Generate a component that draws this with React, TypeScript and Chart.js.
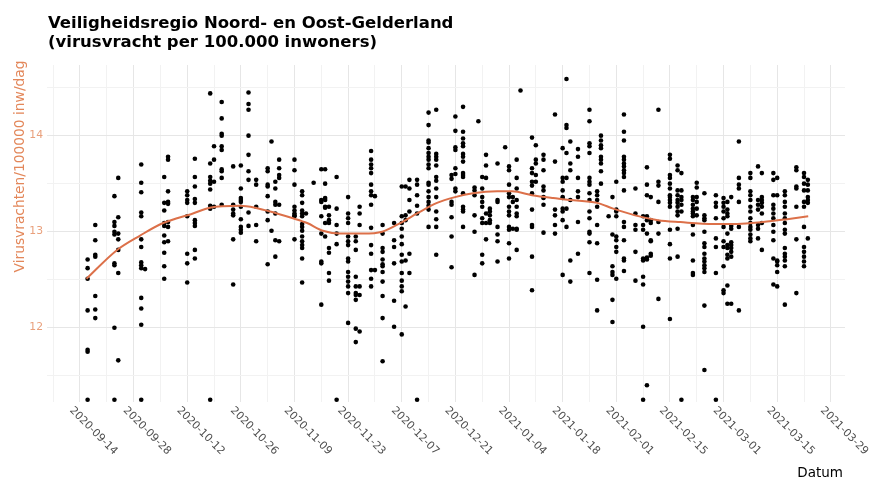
import React, { useEffect, useRef } from 'react';
import { Chart, registerables } from 'chart.js';

Chart.register(...registerables);

const FONT = '"DejaVu Sans", Verdana, sans-serif';

const titleLines = ['Veiligheidsregio Noord- en Oost-Gelderland', '(virusvracht per 100.000 inwoners)'];
const yAxisTitle = 'Virusvrachten/100000 inw/dag';
const xAxisTitle = 'Datum';

// x values are days since 2020-09-14
const xMajorDays = [0, 14, 28, 42, 56, 70, 84, 98, 112, 126, 140, 154, 168, 182, 196];
const xTickLabels = [
  '2020-09-14', '2020-09-28', '2020-10-12', '2020-10-26', '2020-11-09', '2020-11-23', '2020-12-07',
  '2020-12-21', '2021-01-04', '2021-01-18', '2021-02-01', '2021-02-15', '2021-03-01', '2021-03-15', '2021-03-29',
];
const xMinorDays = [-7, 7, 21, 35, 49, 63, 77, 91, 105, 119, 133, 147, 161, 175, 189];
const yMajorTicks = [12, 13, 14];
const yMinorTicks = [11.5, 12.5, 13.5, 14.5];

const sampleDays = [
  2, 4, 9, 10, 16, 17, 22, 23, 28, 30, 34, 35, 37, 40, 42, 44, 46, 49, 50, 51, 52, 56, 58, 59, 61, 63, 64, 65, 67,
  70, 72, 73, 76, 77, 79, 82, 84, 85, 86, 88, 91, 93, 97, 98, 100, 103, 104, 105, 106, 107, 109, 111, 112, 113,
  114, 115, 118, 119, 121, 124, 126, 127, 128, 130, 133, 135, 136, 138, 139, 140, 142, 145, 147, 148, 149, 151,
  154, 156, 157, 160, 161, 163, 166, 168, 169, 170, 172, 175, 177, 178, 181, 182, 184, 187, 189, 190,
];
const sampleValues = [
  [12.71, 12.62, 12.51, 12.18, 11.77, 11.75, 11.25],
  [13.07, 12.91, 12.76, 12.74, 12.33, 12.19, 12.10],
  [13.37, 13.10, 13.06, 13.00, 12.97, 12.67, 12.65, 12.00, 11.25],
  [13.56, 13.15, 12.98, 12.92, 12.81, 12.57, 11.66],
  [13.70, 13.51, 13.41, 13.20, 13.16, 12.92, 12.84, 12.68, 12.65, 12.62, 12.31, 12.20, 12.03, 11.25],
  [12.61],
  [13.57, 13.30, 13.22, 13.09, 13.06, 12.96, 12.89, 12.78, 12.64, 12.51],
  [13.78, 13.75, 13.42, 13.31, 13.29, 13.10, 13.05, 12.90],
  [13.42, 13.38, 13.33, 13.30, 13.16, 12.77, 12.67, 12.47],
  [13.76, 13.57, 13.47, 13.34, 13.30, 13.12, 13.09, 13.06, 12.81, 12.72],
  [14.44, 13.71, 13.57, 13.53, 13.50, 13.44, 13.27, 13.24, 11.25],
  [13.89, 13.75, 13.52, 13.26],
  [14.35, 14.18, 14.02, 14.00, 13.89, 13.85, 13.65, 13.63, 13.56, 13.28],
  [13.68, 13.28, 13.23, 13.19, 13.17, 12.92, 12.45],
  [13.69, 13.45, 13.35, 13.33, 13.31, 13.26, 13.13, 13.05, 13.02, 12.99],
  [14.45, 14.33, 14.27, 14.00, 13.80, 13.63, 13.54, 13.20, 13.06],
  [13.54, 13.49, 13.26, 13.07, 12.90],
  [13.66, 13.63, 13.49, 13.47, 13.37, 13.21, 13.12, 12.66],
  [13.94, 13.01],
  [13.52, 13.45, 13.31, 13.28, 13.19, 12.91, 12.74],
  [13.75, 13.66, 13.59, 13.56, 13.28, 12.90],
  [13.75, 13.64, 13.49, 13.26, 13.22, 13.19, 13.17, 13.16, 12.92],
  [13.42, 13.38, 13.30, 13.22, 13.19, 13.16, 13.08, 13.05, 13.01, 12.95, 12.90, 12.86, 12.83, 12.72, 12.47],
  [13.19],
  [13.51],
  [13.65, 13.33, 13.31, 13.16, 12.98, 12.69, 12.67, 12.24],
  [13.65, 13.50, 13.35, 13.33, 13.26, 13.25, 13.09, 12.95],
  [13.26, 13.17, 13.12, 13.09, 12.83, 12.78, 12.57, 12.49],
  [13.57, 13.24, 13.07, 12.98, 12.87, 11.25],
  [13.36, 13.19, 13.14, 13.09, 12.95, 12.90, 12.86, 12.72, 12.69, 12.58, 12.53, 12.48, 12.43, 12.36, 12.05],
  [12.95, 12.90, 12.81, 12.53, 12.43, 12.36, 12.34, 12.29, 11.99, 11.85],
  [13.26, 13.19, 13.07, 12.43, 12.34, 11.96],
  [13.84, 13.75, 13.70, 13.66, 13.61, 13.49, 13.42, 13.38, 13.28, 13.04, 12.86, 12.77, 12.60, 12.51, 12.43],
  [13.37, 12.60],
  [13.07, 12.98, 12.83, 12.79, 12.71, 12.66, 12.64, 12.58, 12.48, 12.33, 12.10, 11.65],
  [13.09, 12.91, 12.84, 12.67, 12.28, 12.01],
  [13.47, 13.16, 13.09, 13.03, 12.95, 12.87, 12.76, 12.69, 12.57, 12.49, 12.43, 12.38, 11.93],
  [13.47, 13.17, 13.12, 12.70, 12.22],
  [13.54, 13.45, 13.33, 13.21, 12.77, 12.57],
  [13.54, 13.49, 13.38, 13.27, 13.19, 11.25],
  [14.24, 14.11, 13.95, 13.93, 13.87, 13.82, 13.78, 13.75, 13.70, 13.66, 13.51, 13.49, 13.42, 13.36, 13.31, 13.27, 13.23, 13.05],
  [14.27, 13.81, 13.78, 13.75, 13.69, 13.57, 13.53, 13.45, 13.36, 13.21, 13.13, 13.05, 12.76],
  [13.59, 13.55, 13.31, 13.28, 13.15, 12.95, 12.63],
  [14.20, 14.05, 13.88, 13.85, 13.66, 13.60, 13.45, 13.42],
  [14.30, 14.04, 13.97, 13.92, 13.89, 13.81, 13.78, 13.73, 13.61, 13.59, 13.57, 13.40, 13.26, 13.23, 13.21, 13.05],
  [13.46, 13.43, 13.38, 13.17, 13.00, 12.55],
  [14.15],
  [13.57, 13.45, 13.36, 13.31, 13.26, 13.14, 13.09, 12.76, 12.67],
  [13.80, 13.69, 13.56, 13.19, 13.09, 12.92],
  [13.24, 13.21, 13.17, 13.12, 13.09],
  [13.71, 13.33, 13.31, 13.05, 12.97, 12.90, 12.69],
  [13.88],
  [13.68, 13.64, 13.49, 13.40, 13.36, 13.26, 13.21, 13.17, 13.05, 13.02, 12.88, 12.72],
  [13.36, 13.31, 13.03],
  [13.75, 13.56, 13.45, 13.33, 13.26, 13.19, 13.16, 13.03, 13.02, 12.81],
  [14.47],
  [13.98, 13.66, 13.61, 13.52, 13.48, 13.40, 13.23, 13.07, 13.05, 12.74, 12.39],
  [13.90, 13.75, 13.71, 13.59, 13.52],
  [13.80, 13.75, 13.64, 13.47, 13.43, 13.36, 13.35, 13.28, 12.99],
  [14.22, 13.73, 13.23, 13.17, 13.07, 12.98],
  [13.87, 13.56, 13.52, 13.43, 13.36, 13.35, 13.24, 13.21, 13.12, 12.55],
  [14.59, 14.11, 14.08, 13.82, 13.56, 13.24, 13.05],
  [13.94, 13.71, 13.64, 13.33, 12.70, 12.48],
  [13.86, 13.78, 13.56, 13.42, 13.36, 13.10, 12.77],
  [14.27, 14.15, 13.92, 13.89, 13.82, 13.56, 13.52, 13.49, 13.40, 13.33, 13.21, 13.14, 13.00, 12.98, 12.89, 12.57],
  [13.42, 13.38, 13.33, 13.26, 13.07, 12.88, 12.50, 12.18],
  [14.00, 13.95, 13.90, 13.87, 13.78, 13.75, 13.71, 13.63, 13.50],
  [13.16],
  [13.36, 12.97, 12.64, 12.58, 12.55, 12.29, 12.06],
  [13.52, 13.23, 13.21, 13.16, 12.95, 12.91, 12.84, 12.79, 12.51],
  [14.22, 14.04, 13.95, 13.78, 13.75, 13.71, 13.68, 13.64, 13.61, 13.57, 13.43, 13.10, 13.05, 12.91, 12.72, 12.70, 12.59],
  [13.45, 13.19, 13.07, 13.02, 12.79, 12.49],
  [13.16, 13.07, 13.02, 12.72, 12.70, 12.53, 12.45, 12.01, 11.25],
  [13.67, 13.49, 13.38, 13.16, 13.12, 12.98, 12.73, 12.71, 11.40],
  [13.36, 13.12, 13.09, 12.91, 12.90, 12.77, 12.75],
  [14.27, 13.52, 13.48, 13.31, 13.10, 12.98, 12.30],
  [13.80, 13.76, 13.59, 13.56, 13.50, 13.45, 13.38, 13.36, 13.33, 13.30, 13.26, 13.02, 12.87, 12.72, 12.09],
  [13.69, 13.64, 13.43, 13.38, 13.33, 13.30, 13.26, 13.21, 13.17, 13.03, 12.74],
  [13.61, 13.43, 13.36, 13.33, 13.28, 13.21, 11.25],
  [13.36, 13.33, 13.28, 13.24, 13.21, 13.19, 13.16, 13.07, 12.97, 12.70, 12.57, 12.55],
  [13.51, 13.46, 13.36, 13.31, 13.24, 13.17],
  [13.40, 13.17, 13.14, 13.12, 13.00, 12.88, 12.84, 12.77, 12.72, 12.69, 12.65, 12.62, 12.58, 12.23, 11.56],
  [13.38, 13.30, 13.26, 13.14, 12.93, 12.84, 12.57, 11.25],
  [13.35, 13.30, 13.26, 13.21, 13.14, 13.05, 12.90, 12.84, 12.64, 12.39, 12.36],
  [13.31, 13.23, 13.19, 13.16, 12.98, 12.86, 12.83, 12.76, 12.72, 12.44, 12.25],
  [13.36, 13.06, 13.03, 12.89, 12.86, 12.83, 12.79, 12.74, 12.25],
  [13.94, 13.56, 13.49, 13.45, 13.31, 13.05, 12.18],
  [13.61, 13.56, 13.42, 13.38, 13.33, 13.26, 13.21, 13.14, 13.09, 13.05, 13.02, 12.97, 12.93, 12.90],
  [13.68, 13.33, 13.28, 13.23, 13.07, 13.03, 12.93],
  [13.61, 13.36, 13.33, 13.30, 13.26, 13.19, 13.09, 12.81],
  [13.61, 13.54, 13.38, 13.28, 13.24, 13.19, 13.14, 13.07, 13.00, 12.91, 12.72, 12.45],
  [13.56, 13.38, 12.70, 12.69, 12.65, 12.58, 12.43],
  [13.42, 13.38, 13.31, 13.26, 13.19, 13.14, 13.09, 13.02, 12.98, 12.83, 12.77, 12.74, 12.70, 12.64, 12.24],
  [13.67, 13.64, 13.47, 13.45, 13.26, 12.92, 12.36],
  [13.61, 13.57, 13.50, 13.43, 13.31, 13.26, 13.05, 12.84, 12.79, 12.74, 12.69, 12.64],
  [13.54, 13.49, 13.43, 13.36, 13.33, 13.30, 12.93],
];

// smoothed trend
const smoothDays = [
  1.7, 9.7, 15.7, 21.7, 29.5, 33.9, 41.8, 45.7, 51.4, 55.6, 59.3, 63.4, 67.9, 73.9, 78.9, 84.1, 88.0, 93.2,
  97.9, 102.6, 108.9, 112.8, 118.0, 123.5, 127.9, 135.0, 139.2, 144.9, 150.9, 156.7, 165.3, 171.6, 178.3, 184.6, 190.1,
];
const smoothValues = [
  12.51, 12.81, 12.96, 13.09, 13.19, 13.25, 13.27, 13.25, 13.19, 13.14, 13.09, 13.01, 12.98, 12.98, 13.0, 13.10,
  13.19, 13.30, 13.36, 13.40, 13.42, 13.42, 13.38, 13.35, 13.33, 13.30, 13.24, 13.17, 13.12, 13.10, 13.08, 13.08,
  13.10, 13.13, 13.16,
];

const X_MIN = -8.6;
const X_MAX = 199.7;
const Y_MIN = 11.226;
const Y_MAX = 14.736;

const textPlugin = {
  id: 'textPlugin',
  afterDraw(chart: any) {
    const { ctx, chartArea } = chart;
    const xs = chart.scales.x;
    ctx.save();
    // title
    ctx.fillStyle = '#000';
    ctx.font = `bold 16.5px ${FONT}`;
    ctx.textAlign = 'left';
    ctx.textBaseline = 'alphabetic';
    ctx.fillText(titleLines[0], 48, 28);
    ctx.fillText(titleLines[1], 48, 46.5);
    // y axis title
    ctx.save();
    ctx.translate(24, 166.5);
    ctx.rotate(-Math.PI / 2);
    ctx.font = `13.8px ${FONT}`;
    ctx.fillStyle = '#e3875a';
    ctx.textAlign = 'center';
    ctx.textBaseline = 'alphabetic';
    ctx.fillText(yAxisTitle, 0, 0);
    ctx.restore();
    // x tick labels rotated
    ctx.font = `10.8px ${FONT}`;
    ctx.fillStyle = '#4d4d4d';
    ctx.textAlign = 'left';
    ctx.textBaseline = 'top';
    xMajorDays.forEach((d, i) => {
      const px = xs.getPixelForValue(d);
      ctx.save();
      ctx.translate(px - 5, chartArea.bottom + 3);
      ctx.rotate(Math.PI / 4);
      ctx.fillText(xTickLabels[i], 0, 0);
      ctx.restore();
    });
    // x axis title
    ctx.font = `13.5px ${FONT}`;
    ctx.fillStyle = '#000';
    ctx.textAlign = 'right';
    ctx.textBaseline = 'alphabetic';
    ctx.fillText(xAxisTitle, chartArea.right - 2, 477);
    ctx.restore();
  },
};

export default function App() {
  const canvasRef = useRef<HTMLCanvasElement | null>(null);

  useEffect(() => {
    const points: { x: number; y: number }[] = [];
    sampleDays.forEach((d, i) => {
      sampleValues[i].forEach((v) => points.push({ x: d, y: v }));
    });
    const smooth = smoothDays.map((d, i) => ({ x: d, y: smoothValues[i] }));
    const xTicksAll = [...xMinorDays, ...xMajorDays].sort((a, b) => a - b);
    const yTicksAll = [...yMinorTicks, ...yMajorTicks].sort((a, b) => a - b);

    const chart = new Chart(canvasRef.current as HTMLCanvasElement, {
      type: 'scatter',
      data: {
        datasets: [
          {
            type: 'line',
            data: smooth,
            borderColor: '#dc7049',
            borderWidth: 2,
            pointRadius: 0,
            fill: false,
            cubicInterpolationMode: 'monotone',
            order: 0,
          } as any,
          {
            type: 'scatter',
            data: points,
            backgroundColor: '#000',
            borderWidth: 0,
            pointRadius: 2.3,
            order: 1,
          },
        ],
      },
      options: {
        animation: false,
        responsive: true,
        maintainAspectRatio: false,
        layout: { padding: { top: 65, right: 25, left: 0, bottom: 0 } },
        plugins: { legend: { display: false }, tooltip: { enabled: false }, title: { display: false } },
        scales: {
          x: {
            type: 'linear',
            min: X_MIN,
            max: X_MAX,
            afterBuildTicks: (s: any) => {
              s.ticks = xTicksAll.map((v) => ({ value: v }));
            },
            afterFit: (s: any) => {
              s.height = 78;
            },
            ticks: { display: false },
            border: { display: false },
            grid: {
              drawTicks: false,
              color: (c: any) => (xMajorDays.includes(c.tick?.value) ? '#e6e6e6' : '#f2f2f2'),
              lineWidth: 1,
            },
          },
          y: {
            type: 'linear',
            min: Y_MIN,
            max: Y_MAX,
            afterBuildTicks: (s: any) => {
              s.ticks = yTicksAll.map((v) => ({ value: v }));
            },
            afterFit: (s: any) => {
              s.width = 47;
            },
            ticks: {
              padding: 4,
              color: '#e9a07c',
              font: { family: FONT, size: 10.8 },
              callback: (v: any) => (Number.isInteger(v) ? String(v) : ''),
            },
            border: { display: false },
            grid: {
              drawTicks: false,
              color: (c: any) => (yMajorTicks.includes(c.tick?.value) ? '#e6e6e6' : '#f2f2f2'),
              lineWidth: 1,
            },
          },
        },
      },
      plugins: [textPlugin],
    });
    return () => chart.destroy();
  }, []);

  return (
    <div style={{ position: 'fixed', left: 0, top: 0, width: 870, height: 480, background: '#fff' }}>
      <canvas ref={canvasRef} />
    </div>
  );
}
